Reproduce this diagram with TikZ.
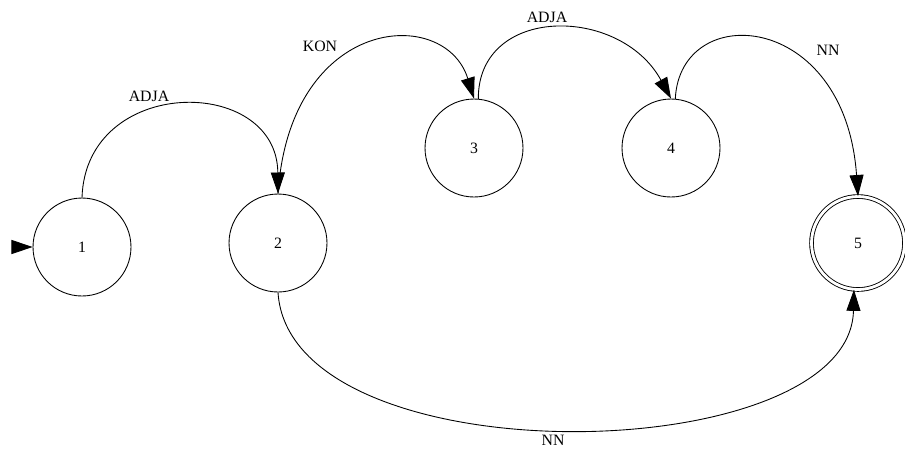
\documentclass[tikz,border=0pt]{standalone}
\usepackage{fontspec}
\setmainfont{Liberation Serif}
\usetikzlibrary{arrows.meta}

\begin{document}
\begin{tikzpicture}[x=0.02cm, y=-0.02cm, font=\fontsize{9}{10}\selectfont,
    state/.style={draw, circle, line width=0.5pt, minimum size=1.96cm, inner sep=0pt},
    final/.style={state, double, double distance=1.6pt, minimum size=1.86cm},
    trans/.style={line width=0.5pt, -{Triangle[length=12pt, width=8pt]}}]
        \useasboundingbox (0,0) rectangle (905,451);
        \node[state] (s1) at (82,247) {1};
        \node[state] (s2) at (278,243) {2};
        \node[state] (s3) at (474,148) {3};
        \node[state] (s4) at (671,148) {4};
        \node[final] (s5) at (858,243) {5};
        \coordinate (init) at (12,247);
        \draw[trans] (init) -- (s1.west);
        \draw[trans] (s1.north) .. controls (86,75) and (277,75) .. (s2.north);
        \draw[trans] (s2.north) .. controls (290,15) and (445,5) .. (s3.north);
        \draw[trans] (s3.85) .. controls (478,5) and (620,5) .. (s4.north);
        \draw[trans] (s4.85) .. controls (680,0) and (845,10) .. (s5.north);
        \draw[trans] (s2.south) .. controls (290,480) and (850,470) .. (s5.265);
        \node (l12) at (149,96) {ADJA};
        \node (l23) at (320,46) {KON};
        \node (l34) at (547,17) {ADJA};
        \node (l45) at (828,50) {NN};
        \node (l25) at (553,440) {NN};
      \end{tikzpicture}
\end{document}
